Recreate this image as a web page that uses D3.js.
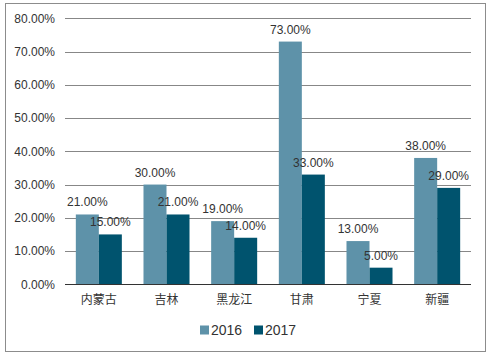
<!DOCTYPE html>
<html><head><meta charset="utf-8">
<script src="https://cdn.jsdelivr.net/npm/d3@7"></script>
<style>body{margin:0;background:#fff}text{font-family:"Liberation Sans",Arial,"Noto Sans CJK SC",sans-serif}</style>
</head><body>
<svg id="c" width="492" height="354"></svg>
<script>
const categories = ["内蒙古","吉林","黑龙江","甘肃","宁夏","新疆"];
const series2016 = [21,30,19,73,13,38];
const series2017 = [15,21,14,33,5,29];
const seriesNames = ["2016","2017"];
const yTicks = [0,10,20,30,40,50,60,70,80];
const colors = ["#5e92a9","#00536e"];

const svg = d3.select("#c");
svg.append("rect").attr("x",5.5).attr("y",3.5).attr("width",480).attr("height",348)
  .attr("fill","#fff").attr("stroke","#8c8c8c").attr("stroke-width",1);

const L=65, R=471, T=18.3, B=284.3;
const x = d3.scaleBand().domain(categories).range([L,R]).paddingInner(0).paddingOuter(0);
const y = d3.scaleLinear().domain([0,80]).range([B,T]);
const bw = x.bandwidth()*0.34;

const g = svg.append("g");
g.selectAll("line.grid").data(yTicks.filter(d=>d>0)).join("line")
  .attr("x1",L).attr("x2",R).attr("y1",d=>Math.round(y(d))+0.5).attr("y2",d=>Math.round(y(d))+0.5)
  .attr("stroke","#878787").attr("stroke-width",1);

const yAxis = d3.axisLeft(y).tickValues(yTicks).tickSize(0).tickPadding(10).tickFormat(d=>d.toFixed(2)+"%");
const ya = svg.append("g").attr("transform",`translate(${L},0)`).call(yAxis);
ya.select(".domain").remove();
ya.selectAll("text").attr("font-size",12).attr("fill","#333").attr("font-family","Liberation Sans, Arial, sans-serif");

const data = categories.map((c,i)=>({c, v:[series2016[i],series2017[i]]}));
data.forEach(d=>{
  const cx = x(d.c)+x.bandwidth()/2;
  d.v.forEach((v,j)=>{
    const bx = cx - bw + j*bw;
    g.append("rect").attr("x",bx).attr("y",y(v)).attr("width",bw).attr("height",B-y(v)).attr("fill",colors[j]);
  });
});
data.forEach(d=>{
  const cx = x(d.c)+x.bandwidth()/2;
  d.v.forEach((v,j)=>{
    const bx = cx - bw + j*bw;
    g.append("text").attr("x",bx+bw/2).attr("y",y(v)-8).attr("text-anchor","middle")
      .attr("font-size",12).attr("fill","#333").text(v.toFixed(2)+"%");
  });
});

svg.append("line").attr("x1",L).attr("x2",R).attr("y1",Math.round(B)+0.5).attr("y2",Math.round(B)+0.5)
  .attr("stroke","#333").attr("stroke-width",1);

const xAxis = d3.axisBottom(x).tickSize(0).tickPadding(11);
const xa = svg.append("g").attr("transform",`translate(0,${B})`).call(xAxis);
xa.select(".domain").remove();
xa.selectAll("text").attr("font-size",12).attr("fill","#333").attr("font-family","Noto Sans CJK SC, sans-serif");

const legX = [200,254];
seriesNames.forEach((n,j)=>{
  svg.append("rect").attr("x",legX[j]).attr("y",325.5).attr("width",9).attr("height",9).attr("fill",colors[j]);
  svg.append("text").attr("x",legX[j]+11).attr("y",335).attr("font-size",14).attr("fill","#333").text(n);
});
</script>
</body></html>
